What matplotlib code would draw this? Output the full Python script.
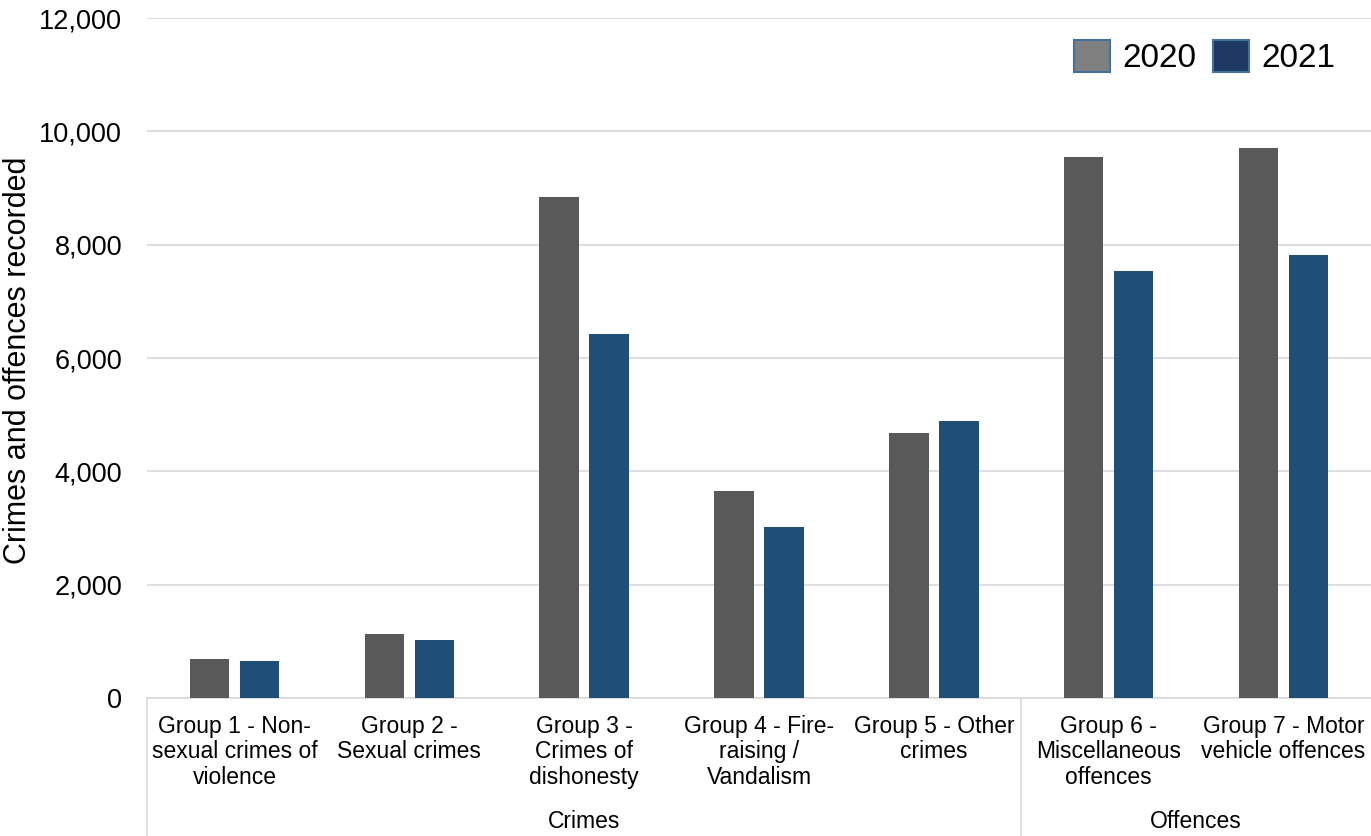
import matplotlib.pyplot as plt
import numpy as np
from matplotlib.patches import Patch
from matplotlib.ticker import FuncFormatter
import matplotlib.transforms as mtransforms

plt.rcParams['font.family'] = ['Liberation Sans', 'DejaVu Sans']

categories = [
    "Group 1 - Non-\nsexual crimes of\nviolence",
    "Group 2 -\nSexual crimes",
    "Group 3 -\nCrimes of\ndishonesty",
    "Group 4 - Fire-\nraising /\nVandalism",
    "Group 5 - Other\ncrimes",
    "Group 6 -\nMiscellaneous\noffences",
    "Group 7 - Motor\nvehicle offences",
]
groups = ["Crimes", "Offences"]
group_sizes = [5, 2]
years = ["2020", "2021"]
values_2020 = [690, 1130, 8840, 3650, 4680, 9550, 9710]
values_2021 = [650, 1020, 6420, 3020, 4890, 7540, 7820]

bar_colors = ["#595959", "#1f4e79"]
legend_colors = ["#808080", "#1f3864"]
grid_color = "#d9d9d9"

fig = plt.figure(figsize=(13.71, 8.36), dpi=100)
ax = fig.add_axes([147 / 1371, 1 - 698 / 836, 1 - 147 / 1371, (698 - 18) / 836])

x = np.arange(len(categories))
w = 0.225
ax.bar(x - 0.143, values_2020, width=w, color=bar_colors[0], zorder=3)
ax.bar(x + 0.143, values_2021, width=w, color=bar_colors[1], zorder=3)

ax.set_xlim(-0.5, len(categories) - 0.5)
ax.set_ylim(0, 12000)
ax.set_yticks(np.arange(0, 12001, 2000))
ax.yaxis.set_major_formatter(FuncFormatter(lambda v, p: f"{int(v):,}"))
ax.grid(axis="y", color=grid_color, linewidth=1.2, zorder=0)
ax.tick_params(axis="y", length=0, labelsize=19.5, pad=18)
ax.set_xticks(x)
ax.set_xticklabels(categories, fontsize=16.5, linespacing=1.15)
ax.tick_params(axis="x", length=0, pad=12)

for s in ["top", "right", "left"]:
    ax.spines[s].set_visible(False)
ax.spines["bottom"].set_color(grid_color)
ax.spines["bottom"].set_linewidth(1.2)

fig.text(18 / 1371, 1 - 360 / 836, "Crimes and offences recorded", rotation=90,
         ha="center", va="center", fontsize=22)

# category group separators and labels under the axis
trans = mtransforms.blended_transform_factory(ax.transData, ax.transAxes)
bottom = -(836 - 698) / 680
start = -0.5
for name, n in zip(groups, group_sizes):
    ax.plot([start, start], [0, bottom], transform=trans, color=grid_color,
            linewidth=1.2, clip_on=False)
    ax.text(start + n / 2, -0.182, name, transform=trans, ha="center",
            va="center", fontsize=16.5)
    start += n

handles = [Patch(facecolor=legend_colors[i], edgecolor="#41719c", linewidth=1.5,
                 label=years[i]) for i in range(2)]
ax.legend(handles=handles, loc="upper right", bbox_to_anchor=(0.995, 1.012),
          ncol=2, frameon=False, fontsize=24, handlelength=1.1, handleheight=1.1,
          handletextpad=0.35, columnspacing=0.5)

fig.savefig("out.png", dpi=100)
